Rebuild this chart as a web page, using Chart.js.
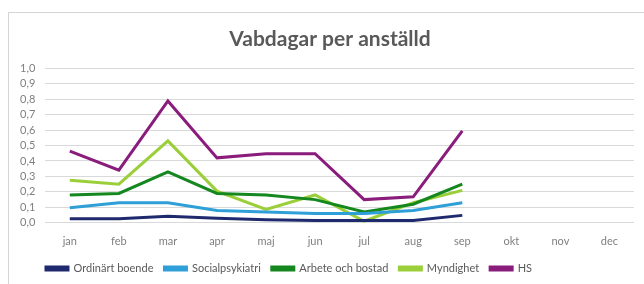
<!DOCTYPE html>
<html>
<head>
<meta charset="utf-8">
<script src="https://cdn.jsdelivr.net/npm/chart.js@4"></script>
<style>
    html, body { margin:0; padding:0; background:#fff; }
    body { width:644px; height:284px; position:relative; overflow:hidden; }
    .frame { position:absolute; left:8px; top:12px; width:700px; height:300px;
             border-left:1px solid #d4d4d4; border-top:1px solid #d4d4d4; }
    .wrap { position:absolute; left:0; top:0; width:644px; height:284px; }
</style>
</head>
<body>
<div class="frame"></div>
<div class="wrap"><canvas id="vabChart"></canvas></div>
<script>
/* ---------------- Data ---------------- */
const months = ['jan','feb','mar','apr','maj','jun','jul','aug','sep','okt','nov','dec'];
const ordinartBoende   = [0.026, 0.026, 0.043, 0.03, 0.02, 0.015, 0.015, 0.015, 0.048];
const socialpsykiatri  = [0.097, 0.13, 0.13, 0.08, 0.07, 0.06, 0.06, 0.08, 0.13];
const arbeteOchBostad  = [0.18, 0.19, 0.33, 0.19, 0.18, 0.15, 0.07, 0.12, 0.25];
const myndighet        = [0.276, 0.25, 0.53, 0.205, 0.087, 0.18, 0.01, 0.13, 0.21];
const hs               = [0.464, 0.34, 0.788, 0.42, 0.447, 0.447, 0.15, 0.168, 0.594];

const fontFamily = 'Lato, "Open Sans", sans-serif';

const mkSet = (label, data, color) => ({
    label, data,
    borderColor: color,
    backgroundColor: color,
    borderWidth: 3,
    pointRadius: 0,
    tension: 0,
    fill: false
});

// legend sits a bit left of centre and title a bit right in the original
const nudgeBoxes = {
    id: 'nudgeBoxes',
    afterLayout(chart) {
        if (chart.legend) { chart.legend.left -= 33; chart.legend.right -= 33; }
        if (chart.titleBlock) { chart.titleBlock.left += 8; chart.titleBlock.right += 8; }
    }
};

new Chart(document.getElementById('vabChart'), {
    type: 'line',
    data: {
        labels: months,
        datasets: [
            mkSet('Ordinärt boende', ordinartBoende, '#1f2a6e'),
            mkSet('Socialpsykiatri', socialpsykiatri, '#2f9fd8'),
            mkSet('Arbete och bostad', arbeteOchBostad, '#14871f'),
            mkSet('Myndighet', myndighet, '#9bcf3a'),
            mkSet('HS', hs, '#8a1c7c')
        ]
    },
    plugins: [nudgeBoxes],
    options: {
        responsive: true,
        maintainAspectRatio: false,
        animation: false,
        layout: { padding: { left: 10, right: 10, top: 27, bottom: 0 } },
        plugins: {
            title: {
                display: true,
                text: 'Vabdagar per anställd',
                color: '#595959',
                font: { family: fontFamily, size: 21, weight: 'bold' },
                padding: { top: 0, bottom: 16 }
            },
            legend: {
                position: 'bottom',
                labels: {
                    color: '#595959',
                    font: { family: fontFamily, size: 11 },
                    boxWidth: 22,
                    boxHeight: 3,
                    padding: 11
                }
            },
            tooltip: { enabled: false }
        },
        scales: {
            x: {
                offset: true,
                grid: { display: false },
                border: { display: false },
                ticks: { color: '#7f7f7f', font: { family: fontFamily, size: 11 }, padding: 4, autoSkip: false, maxRotation: 0 }
            },
            y: {
                min: 0, max: 1,
                ticks: {
                    stepSize: 0.1,
                    autoSkip: false,
                    color: '#7f7f7f',
                    font: { family: fontFamily, size: 11 },
                    padding: 10,
                    callback: v => v.toFixed(1).replace('.', ',')
                },
                grid: { color: '#d9d9d9', drawTicks: false },
                border: { display: false }
            }
        }
    }
});
</script>
</body>
</html>
